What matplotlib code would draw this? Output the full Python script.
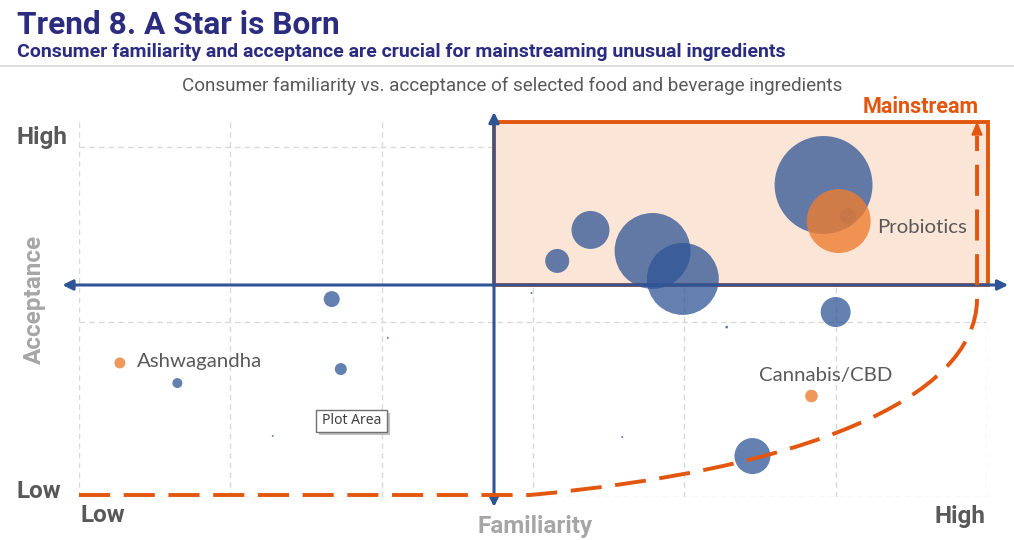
import matplotlib
matplotlib.use("Agg")
import matplotlib.pyplot as plt
from matplotlib.path import Path
from matplotlib.patches import PathPatch, Rectangle, Polygon
import numpy as np

# ---------------- data ----------------
blue_x = [4.92, 5.08, 3.38, 3.16, 3.79, 3.99, 5.00, 4.28, 2.99, 1.67, 1.73, 0.65, 2.04, 1.28, 3.59, 4.45]
blue_y = [1.783, 1.606, 1.526, 1.349, 1.406, 1.246, 1.057, 0.971, 1.166, 1.131, 0.731, 0.651, 0.909, 0.349, 0.343, 0.234]
blue_size = [2400, 64, 361, 144, 1444, 1296, 225, 2, 1, 64, 36, 25, 1, 1, 1, 324]

orange_names = ["Probiotics", "Ashwagandha", "Cannabis/CBD"]
orange_x = [5.02, 0.27, 4.84]
orange_y = [1.577, 0.766, 0.577]
orange_size = [1024, 30, 40]

x_ticks = [0, 1, 2, 3, 4, 5, 6]
y_ticks = [0, 1, 2]

title = "Trend 8. A Star is Born"
subtitle = "Consumer familiarity and acceptance are crucial for mainstreaming unusual ingredients"
chart_title = "Consumer familiarity vs. acceptance of selected food and beverage ingredients"

# ---------------- style ----------------
NAVY = "#2B2C7F"
BLUE = "#2F5597"
ORANGE = "#ED7D31"
DORANGE = "#E2560F"
GREY = "#595959"
LGREY = "#A6A6A6"
SANS = ["Roboto", "DejaVu Sans"]
LABEL = ["Lato", "DejaVu Sans"]

W, H = 1014, 540
fig = plt.figure(figsize=(W / 100, H / 100), dpi=100)

px_l, px_r, px_b, px_t = 79, 987, 497, 122
ax = fig.add_axes([px_l / W, (H - px_b) / H, (px_r - px_l) / W, (px_b - px_t) / H])
ax.set_xlim(0, 6)
ax.set_ylim(0, (497 - 122) / 175.0)
for s in ax.spines.values():
    s.set_visible(False)
ax.set_xticks(x_ticks)
ax.set_yticks(y_ticks)
ax.tick_params(length=0, labelbottom=False, labelleft=False)
ax.grid(True, color="#D9D9D9", linestyle=(0, (4, 3)), linewidth=1.0)
ax.set_axisbelow(True)

# mainstream box
xc, yc = (494 - 79) / 151.33, (497 - 285) / 175.0
ytop = ax.get_ylim()[1]
rect = Rectangle((xc, yc), 6.007 - xc, ytop - yc, facecolor="#FBE5D6",
                 edgecolor=DORANGE, linewidth=2.8, zorder=1, clip_on=False)
ax.add_patch(rect)

# blue quadrant arrows
ax.annotate("", xy=(-0.11, yc), xytext=(6.14, yc),
            arrowprops=dict(arrowstyle="<|-|>,head_length=0.6,head_width=0.3",
                            color=BLUE, lw=2.2, shrinkA=0, shrinkB=0),
            annotation_clip=False, zorder=2)
ax.annotate("", xy=(xc, (497 - 112) / 175.0), xytext=(xc, (497 - 507) / 175.0),
            arrowprops=dict(arrowstyle="<|-|>,head_length=0.6,head_width=0.3",
                            color=BLUE, lw=2.2, shrinkA=0, shrinkB=0),
            annotation_clip=False, zorder=2)

# dashed mainstream curve
def d(px, py):
    return ((px - 79) / 151.33, (497 - py) / 175.0)

verts = [d(79, 495), d(530, 495), d(800, 470), d(975, 400), d(977, 300), d(977, 136)]
codes = [Path.MOVETO, Path.LINETO, Path.CURVE4, Path.CURVE4, Path.CURVE4, Path.LINETO]
curve = PathPatch(Path(verts, codes), facecolor="none", edgecolor=DORANGE, linewidth=2.8,
                  linestyle=(0, (8, 3.5)), zorder=6, clip_on=False)
ax.add_patch(curve)
tip = [d(977, 123), d(972, 135), d(982, 135)]
ax.add_patch(Polygon(tip, closed=True, color=DORANGE, zorder=6, clip_on=False))

# bubbles
k = 2.07
ax.scatter(blue_x, blue_y, s=np.array(blue_size) * k, color=BLUE, alpha=0.75,
           linewidths=0, zorder=4, clip_on=False)
ax.scatter(orange_x, orange_y, s=np.array(orange_size) * k, color=ORANGE, alpha=0.8,
           linewidths=0, zorder=5, clip_on=False)

# bubble labels
lab_off = [(38, -6), (17, 1), (-52, 21)]
for name, x, y, (dx, dy) in zip(orange_names, orange_x, orange_y, lab_off):
    ax.annotate(name, (x, y), xytext=(dx, dy), textcoords="offset pixels",
                ha="left", va="center", fontsize=14.7, color=GREY, family=LABEL, zorder=7)

# titles / axis labels (figure pixel coordinates)
def ft(x, y, s, **kw):
    fig.text(x / W, 1 - y / H, s, **kw)

ft(17, 25, title, fontsize=22.8, fontweight="bold", color=NAVY, family=SANS, va="center")
ft(17, 52, subtitle, fontsize=14.0, fontweight="bold", color=NAVY, family=SANS, va="center")
fig.add_artist(plt.Line2D([0, 1], [1 - 66 / H, 1 - 66 / H], color="#D9D9D9", lw=1.2))
ft(512, 86, chart_title, fontsize=13.6, color=GREY, family=SANS, ha="center", va="center")
ft(979, 107, "Mainstream", fontsize=15.5, fontweight="bold", color=DORANGE,
   family=SANS, ha="right", va="center")

ax_lab = dict(fontsize=17.5, fontweight="bold", color=GREY, family=SANS, va="center")
ft(17, 137, "High", ha="left", **ax_lab)
ft(17, 491, "Low", ha="left", **ax_lab)
ft(81, 516, "Low", ha="left", **ax_lab)
ft(986, 516, "High", ha="right", **ax_lab)
ft(535, 526, "Familiarity", fontsize=17.5, fontweight="bold", color=LGREY,
   family=SANS, ha="center", va="center")
ft(34, 299, "Acceptance", fontsize=17.5, fontweight="bold", color=LGREY, rotation=90,
   family=SANS, ha="center", va="center")

# "Plot Area" tooltip
bx, by, bw, bh = 316 / W, 1 - 432 / H, 71 / W, 22 / H
fig.add_artist(Rectangle((bx + 3 / W, by - 3 / H), bw, bh, transform=fig.transFigure,
                         facecolor="#BFBFBF", edgecolor="none", zorder=7))
fig.add_artist(Rectangle((bx, by), bw, bh, transform=fig.transFigure,
                         facecolor="white", edgecolor="#707070", lw=1, zorder=8))
ft(351.5, 421, "Plot Area", fontsize=10, color="#404040", family=["Noto Sans", "DejaVu Sans"],
   ha="center", va="center", zorder=9)

fig.savefig("out.png", dpi=100)
